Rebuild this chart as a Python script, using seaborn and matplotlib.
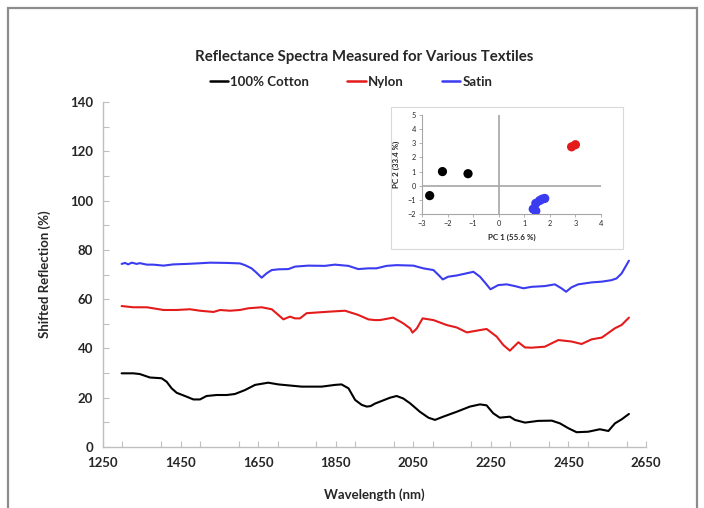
import numpy as np
import pandas as pd
import matplotlib
matplotlib.use("Agg")
import matplotlib.pyplot as plt
from matplotlib.patches import Rectangle
from matplotlib.lines import Line2D
from matplotlib.ticker import MultipleLocator
import seaborn as sns

# ---------------- data ----------------
cotton_wl = [1298, 1328, 1345, 1371, 1401, 1414, 1427, 1440, 1466, 1483, 1500, 1517, 1543, 1569,
             1590, 1616, 1642, 1676, 1702, 1762, 1814, 1848, 1865, 1883, 1900, 1917, 1930, 1940,
             1951, 1964, 1990, 2007, 2024, 2042, 2067, 2089, 2106, 2127, 2162, 2196, 2222, 2239,
             2256, 2273, 2299, 2312, 2338, 2372, 2407, 2428, 2450, 2471, 2501, 2531, 2553, 2570,
             2587, 2606]
cotton_val = [29.9, 29.9, 29.6, 28.2, 27.9, 26.5, 23.8, 22.0, 20.4, 19.3, 19.3, 20.7, 21.1, 21.1,
              21.5, 23.1, 25.2, 26.1, 25.4, 24.5, 24.5, 25.2, 25.4, 23.8, 19.1, 17.1, 16.4, 16.6,
              17.6, 18.4, 20.0, 20.7, 19.7, 17.7, 14.3, 11.9, 11.0, 12.3, 14.3, 16.4, 17.3, 16.9,
              13.7, 11.9, 12.3, 11.0, 9.9, 10.6, 10.7, 9.6, 7.6, 6.0, 6.2, 7.2, 6.5, 9.6,
              11.2, 13.4]

nylon_wl = [1298, 1328, 1363, 1406, 1440, 1474, 1500, 1535, 1552, 1577, 1603, 1625, 1659, 1685,
            1702, 1715, 1732, 1745, 1758, 1775, 1831, 1874, 1908, 1934, 1951, 1964, 1998, 2024,
            2042, 2048, 2059, 2074, 2102, 2136, 2162, 2188, 2213, 2239, 2265, 2282, 2299, 2321,
            2338, 2355, 2389, 2424, 2458, 2484, 2510, 2536, 2570, 2587, 2606]
nylon_val = [57.2, 56.7, 56.7, 55.6, 55.6, 55.9, 55.3, 54.8, 55.6, 55.3, 55.6, 56.3, 56.7, 55.9,
             53.6, 51.8, 52.9, 52.2, 52.2, 54.3, 54.9, 55.3, 53.6, 51.8, 51.5, 51.5, 52.5, 50.2,
             48.1, 46.4, 48.1, 52.2, 51.5, 49.5, 48.5, 46.5, 47.2, 47.9, 44.8, 41.4, 39.1, 42.5,
             40.4, 40.3, 40.7, 43.4, 42.8, 41.8, 43.7, 44.4, 48.2, 49.5, 52.5]

satin_wl = [1298, 1307, 1315, 1324, 1337, 1345, 1363, 1380, 1406, 1431, 1466, 1492, 1526, 1569,
            1603, 1616, 1633, 1646, 1659, 1672, 1685, 1702, 1728, 1745, 1779, 1822, 1848, 1883,
            1908, 1934, 1955, 1981, 2007, 2050, 2076, 2102, 2115, 2126, 2140, 2162, 2188, 2205,
            2222, 2235, 2249, 2269, 2291, 2312, 2334, 2355, 2389, 2415, 2432, 2444, 2458, 2475,
            2510, 2536, 2561, 2574, 2587, 2606]
satin_val = [74.3, 74.7, 74.1, 74.8, 74.3, 74.6, 74.0, 74.0, 73.6, 74.1, 74.3, 74.5, 74.8, 74.7,
             74.5, 73.8, 72.5, 70.7, 68.7, 70.5, 71.8, 72.1, 72.2, 73.2, 73.6, 73.5, 74.0, 73.5,
             72.2, 72.5, 72.5, 73.5, 73.8, 73.6, 72.5, 71.8, 69.8, 68.0, 69.1, 69.6, 70.5, 71.1,
             69.1, 66.7, 64.0, 65.7, 66.0, 65.3, 64.4, 65.0, 65.3, 66.0, 64.4, 63.0, 64.8, 66.0,
             66.8, 67.1, 67.7, 68.4, 70.4, 75.6]

series_names = ["100% Cotton", "Nylon", "Satin"]
series_colors = ["#000000", "#e41b1b", "#3b3bf0"]

x_ticks = [1250, 1450, 1650, 1850, 2050, 2250, 2450, 2650]
y_ticks = [0, 20, 40, 60, 80, 100, 120, 140]

pc1_cotton = [-2.7, -2.2, -1.2]
pc2_cotton = [-0.7, 1.0, 0.85]
pc1_nylon = [2.85, 3.0]
pc2_nylon = [2.75, 2.9]
pc1_satin = [1.35, 1.45, 1.45, 1.6, 1.7, 1.8]
pc2_satin = [-1.65, -1.78, -1.25, -1.05, -0.95, -0.9]

title = "Reflectance Spectra Measured for Various Textiles"
xlabel = "Wavelength (nm)"
ylabel = "Shifted Reflection (%)"
pc_xlabel = "PC 1 (55.6 %)"
pc_ylabel = "PC 2 (33.4 %)"

# ---------------- build tables ----------------
spec = pd.concat([
    pd.DataFrame({"wl": cotton_wl, "val": cotton_val, "fabric": series_names[0]}),
    pd.DataFrame({"wl": nylon_wl, "val": nylon_val, "fabric": series_names[1]}),
    pd.DataFrame({"wl": satin_wl, "val": satin_val, "fabric": series_names[2]}),
], ignore_index=True)
pca = pd.concat([
    pd.DataFrame({"pc1": pc1_cotton, "pc2": pc2_cotton, "fabric": series_names[0]}),
    pd.DataFrame({"pc1": pc1_nylon, "pc2": pc2_nylon, "fabric": series_names[1]}),
    pd.DataFrame({"pc1": pc1_satin, "pc2": pc2_satin, "fabric": series_names[2]}),
], ignore_index=True)
palette = dict(zip(series_names, series_colors))

sns.set_theme(style="white")
plt.rcParams["font.family"] = ["Lato", "DejaVu Sans"]

W, H = 704, 508
fig = plt.figure(figsize=(W / 100, H / 100), dpi=100)
fig.patch.set_facecolor("white")

# outer border
fig.patches.append(Rectangle((8 / W, -0.02), (697 - 8) / W, 1 - 8 / H + 0.02,
                             transform=fig.transFigure, fill=False,
                             edgecolor="#8c8c8c", linewidth=1.6))

def fx(px):
    return px / W

def fy(py):
    return 1 - py / H

ax = fig.add_axes([fx(103), fy(447), fx(646) - fx(103), fy(102) - fy(447)])
sns.lineplot(data=spec, x="wl", y="val", hue="fabric", palette=palette,
             linewidth=1.5, ax=ax, legend=False, sort=True)
ax.set_xlim(1250, 2650)
ax.set_ylim(0, 140)
ax.set_xticks(x_ticks, labels=[str(t) for t in x_ticks], fontweight="bold")
ax.set_yticks(y_ticks, labels=[str(t) for t in y_ticks], fontweight="bold")
ax.xaxis.set_minor_locator(MultipleLocator(100))
ax.yaxis.set_minor_locator(MultipleLocator(10))
for s in ["top", "right"]:
    ax.spines[s].set_visible(False)
for s in ["left", "bottom"]:
    ax.spines[s].set_color("#bfbfbf")
    ax.spines[s].set_linewidth(1.0)
ax.tick_params(which="both", direction="in", length=4, width=0.8, color="#bfbfbf",
               bottom=True, left=True)
ax.tick_params(axis="both", which="major", labelsize=9.5, pad=7)
ax.set_xlabel(xlabel, fontsize=9.5, fontweight="bold", labelpad=14)
ax.set_ylabel(ylabel, fontsize=9.5, fontweight="bold", labelpad=14)
ax.grid(False)

fig.text(fx(364), fy(57), title, ha="center", va="center", fontsize=10.8, fontweight="bold")

handles = [Line2D([0], [0], color=c, lw=1.8) for c in series_colors]
fig.legend(handles, series_names, loc="center", bbox_to_anchor=(fx(351), fy(82)),
           ncol=3, frameon=False, handlelength=1.4, handletextpad=0.15,
           columnspacing=2.9, prop={"weight": "bold", "size": 9.5})

# inset
fig.patches.append(Rectangle((fx(391), fy(249)), fx(623) - fx(391), fy(107) - fy(249),
                             transform=fig.transFigure, facecolor="white",
                             edgecolor="#d9d9d9", linewidth=0.8, zorder=3))
iax = fig.add_axes([fx(422), fy(214), fx(601) - fx(422), fy(115) - fy(214)], zorder=4)
iax.axhline(0, color="#a6a6a6", lw=1.2, zorder=1)
iax.axvline(0, color="#a6a6a6", lw=1.2, zorder=1)
sns.scatterplot(data=pca, x="pc1", y="pc2", hue="fabric", palette=palette, s=44,
                edgecolor="none", ax=iax, legend=False, zorder=3)
iax.set_xlim(-3, 4)
iax.set_ylim(-2, 5)
iax.xaxis.set_major_locator(MultipleLocator(1))
iax.yaxis.set_major_locator(MultipleLocator(1))
for s in ["top", "right"]:
    iax.spines[s].set_visible(False)
for s in ["left", "bottom"]:
    iax.spines[s].set_color("#a6a6a6")
    iax.spines[s].set_linewidth(0.8)
iax.tick_params(which="both", direction="out", length=2.5, width=0.6, color="#a6a6a6",
                labelsize=5.3, pad=2, bottom=True, left=True)
iax.set_xlabel(pc_xlabel, fontsize=5.8, fontweight="bold", labelpad=5)
iax.set_ylabel(pc_ylabel, fontsize=5.8, fontweight="bold", labelpad=5)
iax.patch.set_alpha(0)
iax.grid(False)

fig.savefig("out.png", dpi=100)
